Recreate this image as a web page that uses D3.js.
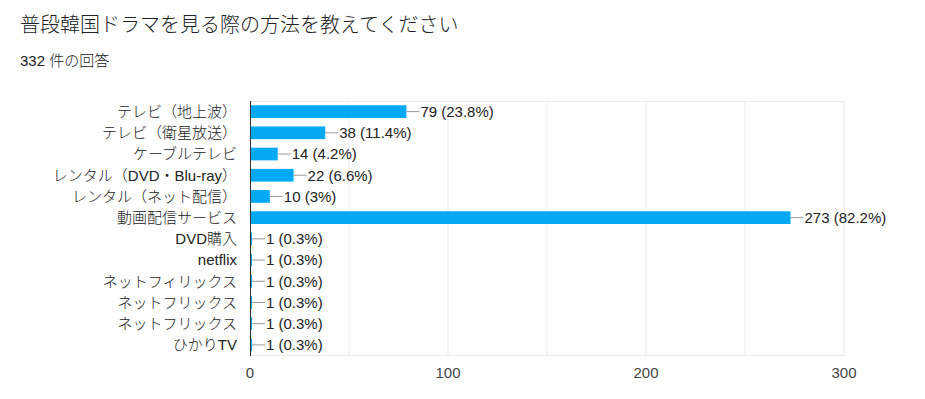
<!DOCTYPE html>
<html><head><meta charset="utf-8">
<script src="https://cdn.jsdelivr.net/npm/d3@7/dist/d3.min.js"></script>
<style>
html,body{margin:0;padding:0;background:#fff;}
svg{display:block;font-family:"Liberation Sans",Arial,"Noto Sans CJK JP",sans-serif;}
</style></head><body>
<svg id="c" width="925" height="399"></svg>
<script>
const title = "普段韓国ドラマを見る際の方法を教えてください";
const subtitle = "332 件の回答";
const categories = ["テレビ（地上波）","テレビ（衛星放送）","ケーブルテレビ","レンタル（DVD・Blu-ray）","レンタル（ネット配信）","動画配信サービス","DVD購入","netflix","ネットフィリックス","ネットフリックス","ネットフリックス","ひかりTV"];
const values = [79,38,14,22,10,273,1,1,1,1,1,1];
const percents = ["23.8%","11.4%","4.2%","6.6%","3%","82.2%","0.3%","0.3%","0.3%","0.3%","0.3%","0.3%"];
const ticks = [0,100,200,300];
const gridTicks = [50,100,150,200,250,300];

const svg = d3.select("#c");
svg.append("text").attr("x",20).attr("y",32).attr("font-size",20).attr("fill","#202124")
  .attr("font-weight",300).text(title);
svg.append("text").attr("x",20).attr("y",66).attr("font-size",15).attr("fill","#202124")
  .attr("font-weight",300).text(subtitle);

const x = d3.scaleLinear().domain([0,300]).range([250,844]);
const y = d3.scaleBand().domain(d3.range(categories.length)).range([101,355.5]).paddingInner(0.4).paddingOuter(0.2);

// grid
svg.append("g").selectAll("line").data(gridTicks).join("line")
  .attr("x1",d=>x(d)).attr("x2",d=>x(d)).attr("y1",101).attr("y2",355.5)
  .attr("stroke","#ebebeb").attr("stroke-width",1);
svg.append("line").attr("x1",250).attr("x2",844).attr("y1",101.5).attr("y2",101.5).attr("stroke","#ebebeb");
svg.append("line").attr("x1",250).attr("x2",844).attr("y1",355.5).attr("y2",355.5).attr("stroke","#ebebeb");

// bars
const idx = d3.range(categories.length);
svg.append("g").selectAll("rect").data(idx).join("rect")
  .attr("x",x(0)).attr("y",i=>y(i)).attr("width",i=>x(values[i])-x(0)).attr("height",y.bandwidth())
  .attr("fill","#03a9f4");

// leader lines & labels
svg.append("g").selectAll("line").data(idx).join("line")
  .attr("x1",i=>x(values[i])).attr("x2",i=>x(values[i])+13)
  .attr("y1",i=>y(i)+y.bandwidth()/2).attr("y2",i=>y(i)+y.bandwidth()/2)
  .attr("stroke","#999").attr("stroke-width",1);
svg.append("g").selectAll("text").data(idx).join("text")
  .attr("x",i=>x(values[i])+14).attr("y",i=>y(i)+y.bandwidth()/2).attr("dy","0.36em")
  .attr("font-size",15).attr("fill","#222")
  .text(i=>`${values[i]} (${percents[i]})`);

// category labels
svg.append("g").selectAll("text").data(idx).join("text")
  .attr("x",237).attr("y",i=>y(i)+y.bandwidth()/2).attr("dy","0.36em")
  .attr("text-anchor","end").attr("font-size",15).attr("fill","#222").attr("font-weight",300)
  .text(i=>categories[i]);

// axis
svg.append("line").attr("x1",250.5).attr("x2",250.5).attr("y1",101).attr("y2",356).attr("stroke","#333").attr("stroke-width",1);
svg.append("g").selectAll("text").data(ticks).join("text")
  .attr("x",d=>x(d)).attr("y",378).attr("text-anchor","middle").attr("font-size",15).attr("fill","#444")
  .text(d=>d);
</script>
</body></html>
